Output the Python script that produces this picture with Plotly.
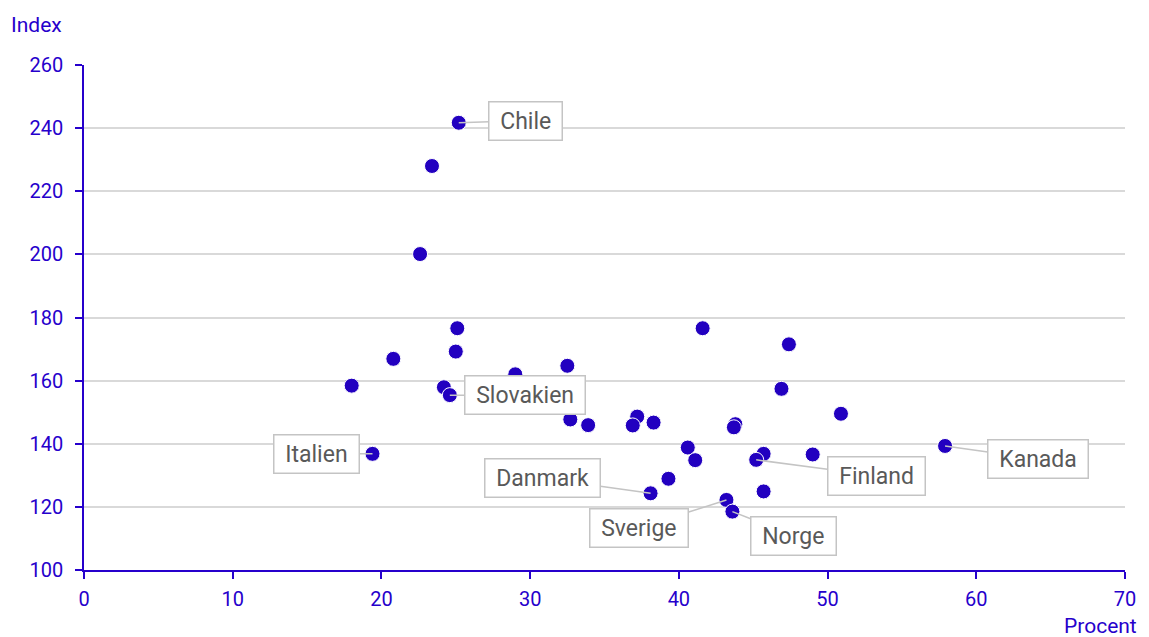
import plotly.graph_objects as go

# Data (Procent vs Index)
land = ["Chile", "", "", "", "", "", "", "", "Slovakien", "", "", "", "", "", "", "",
        "", "", "", "", "", "", "", "", "", "Danmark", "Italien", "", "Finland", "",
        "", "Sverige", "Norge", "Kanada"]
procent = [25.2, 23.4, 22.6, 25.1, 25.0, 20.8, 18.0, 24.2, 24.6, 29.0, 32.5, 32.7,
           33.9, 37.2, 36.9, 38.3, 41.6, 47.4, 46.9, 50.9, 43.8, 43.7, 40.6, 41.1,
           39.3, 38.1, 19.4, 45.7, 45.2, 49.0, 45.7, 43.2, 43.6, 57.9]
index = [241.7, 228.0, 200.1, 176.6, 169.2, 166.9, 158.4, 157.9, 155.4, 162.0, 164.7,
         147.7, 145.9, 148.6, 145.8, 146.7, 176.6, 171.5, 157.4, 149.5, 146.2, 145.2,
         138.8, 134.8, 128.9, 124.3, 136.8, 136.8, 134.9, 136.6, 124.9, 122.2, 118.5,
         139.3]

x_ticks = [0, 10, 20, 30, 40, 50, 60, 70]
y_ticks = [100, 120, 140, 160, 180, 200, 220, 240, 260]

# label box offsets in pixels (placement only)
label_offset = {
    "Chile": (67, -2), "Slovakien": (75, 0), "Italien": (-56, 0),
    "Danmark": (-108, -15), "Sverige": (-87, 28), "Norge": (61, 24),
    "Finland": (120, 16), "Kanada": (93, 13),
}

BLUE = "#2200c0"
AXIS_BLUE = "#2600cc"
FONT = "Roboto"

fig = go.Figure(go.Scatter(
    x=procent, y=index, mode="markers",
    marker=dict(size=15, color=BLUE, line=dict(color="white", width=1)),
    hoverinfo="skip", showlegend=False,
))

annotations = []
for name, xv, yv in zip(land, procent, index):
    if not name:
        continue
    ax, ay = label_offset[name]
    annotations.append(dict(
        x=xv, y=yv, xref="x", yref="y", text="\u00a0" + name + "\u00a0",
        showarrow=True, arrowhead=0, arrowwidth=1.5, arrowcolor="#c4c4c4",
        ax=ax, ay=ay, standoff=0,
        font=dict(family=FONT, size=23, color="#595959"),
        bgcolor="white", bordercolor="#c4c4c4", borderwidth=1.5, borderpad=5,
    ))

annotations.append(dict(
    x=-0.072, y=1.079, xref="paper", yref="paper", text="Index",
    showarrow=False, xanchor="left", yanchor="middle",
    font=dict(family=FONT, size=21, color=AXIS_BLUE),
))
annotations.append(dict(
    x=1.0135, y=-0.11, xref="paper", yref="paper", text="Procent",
    showarrow=False, xanchor="right", yanchor="middle",
    font=dict(family=FONT, size=21, color=AXIS_BLUE),
))

# page body adds an 8px offset, so margins are 8px smaller than the target
fig.update_layout(
    width=1141, height=629,
    margin=dict(l=76, r=24, t=57, b=67),
    paper_bgcolor="white", plot_bgcolor="white",
    font=dict(family=FONT, color=AXIS_BLUE),
    annotations=annotations,
    xaxis=dict(
        range=[0, 70], tickvals=x_ticks, showgrid=False, zeroline=False,
        automargin=False,
        showline=True, linecolor=AXIS_BLUE, linewidth=1.5,
        ticks="outside", ticklen=7, tickcolor=AXIS_BLUE, tickwidth=1.5,
        ticklabelstandoff=3,
        tickfont=dict(family=FONT, size=20, color=AXIS_BLUE),
    ),
    yaxis=dict(
        range=[100, 260], tickvals=y_ticks, showgrid=True, gridcolor="#d9d9d9",
        gridwidth=1.5, zeroline=False, automargin=False,
        showline=True, linecolor=AXIS_BLUE, linewidth=1.5,
        ticks="outside", ticklen=7, tickcolor=AXIS_BLUE, tickwidth=1.5,
        ticklabelstandoff=8,
        tickfont=dict(family=FONT, size=20, color=AXIS_BLUE),
    ),
)

fig.write_html("out.html")
